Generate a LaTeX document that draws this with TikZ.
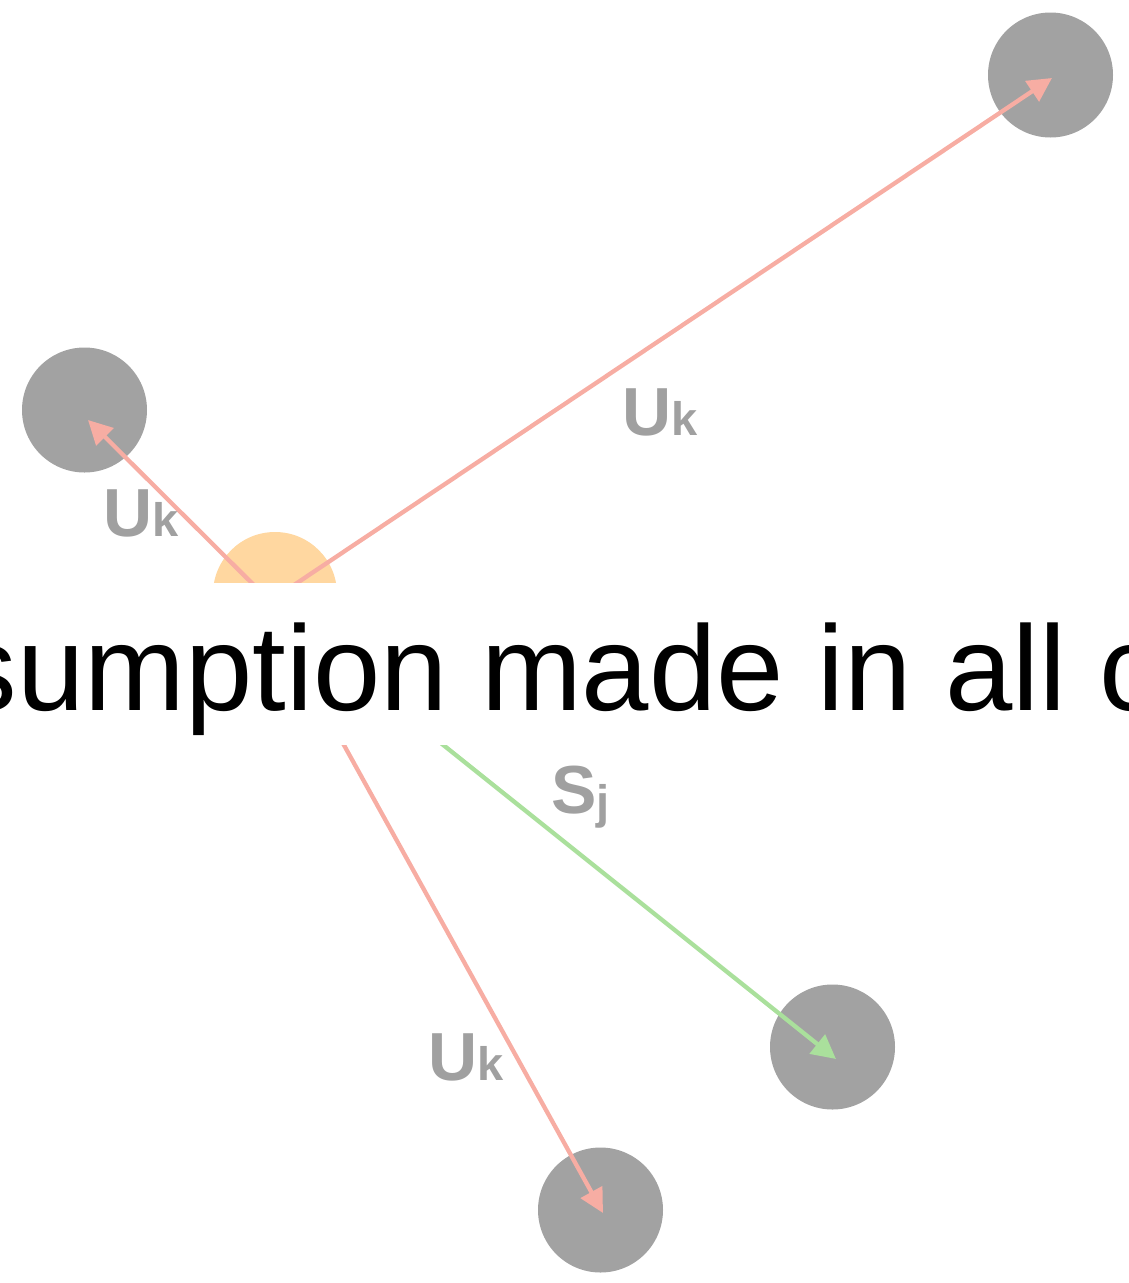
\documentclass[tikz,border=0pt]{standalone}
\usepackage{fontspec}
\setmainfont{Liberation Sans}
\usetikzlibrary{arrows.meta}
\definecolor{nodegray}{RGB}{162,162,162}
\definecolor{srcorange}{RGB}{255,215,160}
\definecolor{edgepink}{RGB}{247,173,163}
\definecolor{edgegreen}{RGB}{170,224,156}
\definecolor{labelgray}{RGB}{160,160,160}
\newcommand{\bigsz}{\fontsize{68}{68}\selectfont\bfseries}
\newcommand{\subsz}{\fontsize{47}{47}\selectfont\bfseries}
\begin{document}
\begin{tikzpicture}[x=1pt,y=-1pt,
  gnode/.style={circle,fill=nodegray,minimum size=125pt,inner sep=0pt},
  srcnode/.style={circle,fill=srcorange,minimum size=124pt,inner sep=0pt},
  edge/.style={line width=4.3pt,-{Triangle[length=24pt,width=24pt]}},
  elabel/.style={anchor=base west,inner sep=0pt,text=labelgray},
  band/.style={anchor=base west,inner sep=0pt,fill=white,text=black,
    text height=127pt,text depth=35pt,font=\fontsize{121}{121}\selectfont}]
\useasboundingbox (0,0) rectangle (1128,1283);
\clip (0,0) rectangle (1128,1283);
% nodes
\node[srcnode] (src) at (275,594) {};
\node[gnode] (g1) at (1050.5,75) {};
\node[gnode] (g2) at (84.5,410) {};
\node[gnode] (g3) at (832.5,1047) {};
\node[gnode] (g4) at (600.5,1210) {};
% edge ends
\coordinate (s1) at (241.7,620);
\coordinate (t1) at (1052,78);
\coordinate (s2) at (289,620);
\coordinate (t2) at (88,420);
\coordinate (s3) at (319,700);
\coordinate (t3) at (603,1213);
\coordinate (s4) at (387,700);
\coordinate (t4) at (836,1059);
% edges
\draw[edge,edgepink] (s1) -- (t1);
\draw[edge,edgepink] (s2) -- (t2);
\draw[edge,edgepink] (s3) -- (t3);
\draw[edge,edgegreen] (s4) -- (t4);
% labels
\node[elabel] (l1) at (622,435) {\bigsz U\subsz k};
\node[elabel] (l2) at (103,536) {\bigsz U\subsz k};
\node[elabel] (l3) at (428,1080) {\bigsz U\subsz k};
\node[elabel] (l4) at (551,813) {\bigsz S\raisebox{-5pt}{\subsz j}};
% caption band
\node[band] (cap) at (-43.5,710) {sumption made in all c};
\end{tikzpicture}
\end{document}
